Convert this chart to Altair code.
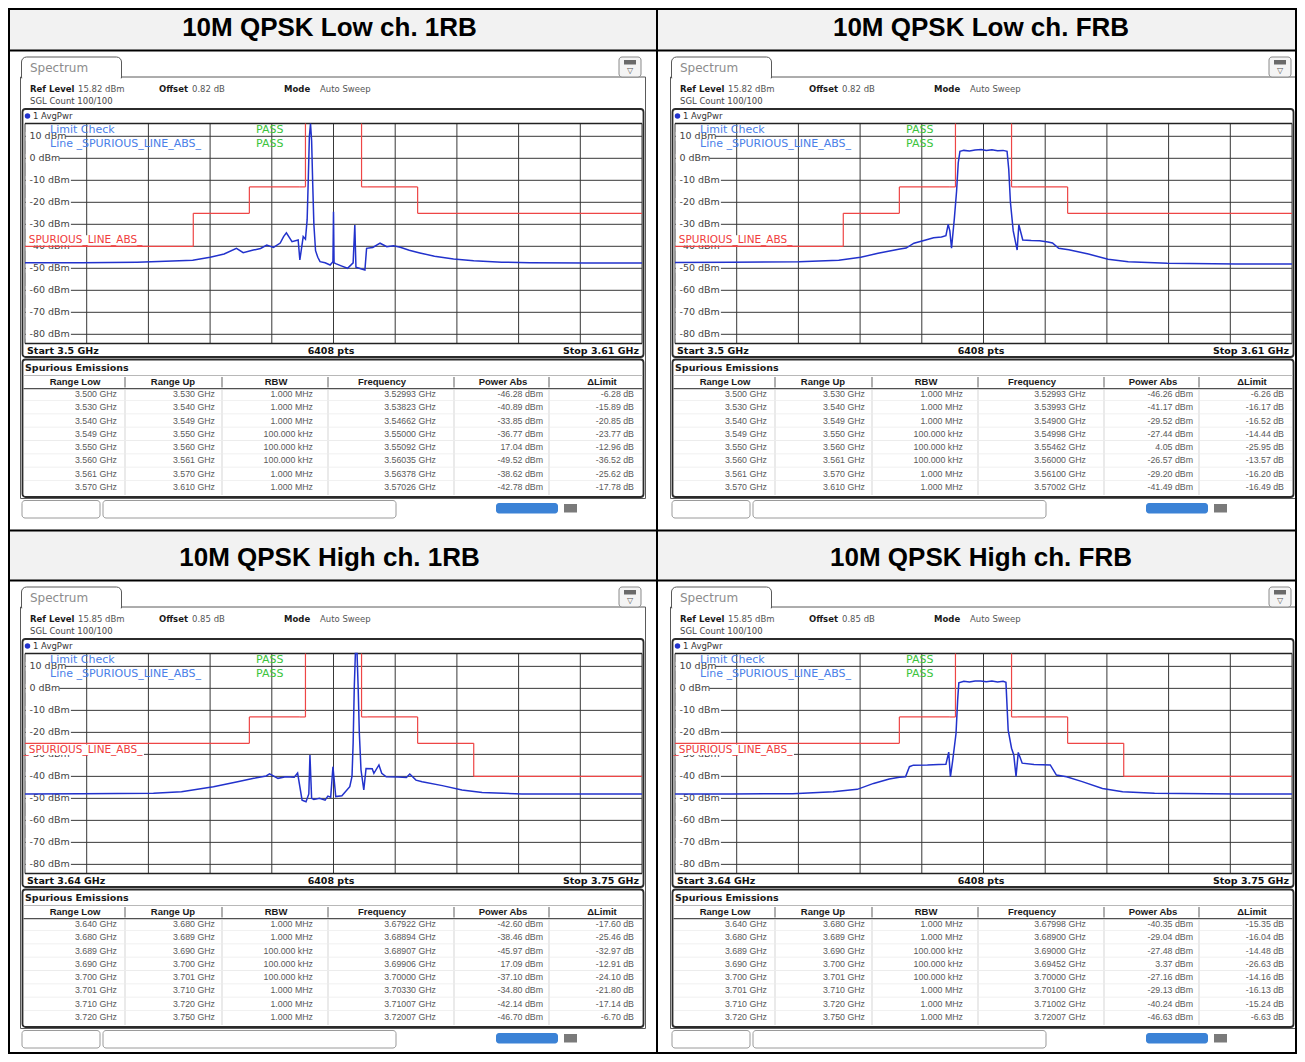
import altair as alt
import pandas as pd

# ------------------------------------------------------------------ data
TITLES = ["10M QPSK Low ch. 1RB", "10M QPSK Low ch. FRB",
          "10M QPSK High ch. 1RB", "10M QPSK High ch. FRB"]
REF_LEVEL = [15.82, 15.82, 15.85, 15.85]
OFFSET_DB = [0.82, 0.82, 0.85, 0.85]
START_GHZ = [3.50, 3.50, 3.64, 3.64]
STOP_GHZ = [3.61, 3.61, 3.75, 3.75]
SWEEP_POINTS = 6408
Y_TICKS = [10, 0, -10, -20, -30, -40, -50, -60, -70, -80]
TABLE_HEADERS = ["Range Low", "Range Up", "RBW", "Frequency", "Power Abs", "\u0394Limit"]

LOW_RANGE_LOW = [3.500, 3.530, 3.540, 3.549, 3.550, 3.560, 3.561, 3.570]
LOW_RANGE_UP = [3.530, 3.540, 3.549, 3.550, 3.560, 3.561, 3.570, 3.610]
LOW_RBW = ["1.000 MHz", "1.000 MHz", "1.000 MHz", "100.000 kHz",
           "100.000 kHz", "100.000 kHz", "1.000 MHz", "1.000 MHz"]
HIGH_RANGE_LOW = [3.640, 3.680, 3.689, 3.690, 3.700, 3.701, 3.710, 3.720]
HIGH_RANGE_UP = [3.680, 3.689, 3.690, 3.700, 3.701, 3.710, 3.720, 3.750]
HIGH_RBW = ["1.000 MHz", "1.000 MHz", "100.000 kHz", "100.000 kHz",
            "100.000 kHz", "1.000 MHz", "1.000 MHz", "1.000 MHz"]

P1_FREQ = [3.52993, 3.53823, 3.54662, 3.55000, 3.55092, 3.56035, 3.56378, 3.57026]
P1_POWER = [-46.28, -40.89, -33.85, -36.77, 17.04, -49.52, -38.62, -42.78]
P1_DELTA = [-6.28, -15.89, -20.85, -23.77, -12.96, -36.52, -25.62, -17.78]
P2_FREQ = [3.52993, 3.53993, 3.54900, 3.54998, 3.55462, 3.56000, 3.56100, 3.57002]
P2_POWER = [-46.26, -41.17, -29.52, -27.44, 4.05, -26.57, -29.20, -41.49]
P2_DELTA = [-6.26, -16.17, -16.52, -14.44, -25.95, -13.57, -16.20, -16.49]
P3_FREQ = [3.67922, 3.68894, 3.68907, 3.69906, 3.70000, 3.70330, 3.71007, 3.72007]
P3_POWER = [-42.60, -38.46, -45.97, 17.09, -37.10, -34.80, -42.14, -46.70]
P3_DELTA = [-17.60, -25.46, -32.97, -12.91, -24.10, -21.80, -17.14, -6.70]
P4_FREQ = [3.67998, 3.68900, 3.69000, 3.69452, 3.70000, 3.70100, 3.71002, 3.72007]
P4_POWER = [-40.35, -29.04, -27.48, 3.37, -27.16, -29.13, -40.24, -46.63]
P4_DELTA = [-15.35, -16.04, -14.48, -26.63, -14.16, -16.13, -15.24, -6.63]

# traces (GHz, dBm)
T1_F = [3.5000, 3.5100, 3.5200, 3.5263, 3.5299, 3.5330, 3.5355, 3.5377, 3.5389, 3.5407,
        3.5420, 3.5431, 3.5443, 3.5455, 3.5461, 3.5466, 3.5476, 3.5487, 3.5490, 3.5496,
        3.5500, 3.5503, 3.5505, 3.5507, 3.5509, 3.5511, 3.5513, 3.5515, 3.5518, 3.5522,
        3.5526, 3.5535, 3.5544, 3.5549, 3.5550, 3.5551, 3.5555, 3.5565, 3.5575, 3.5585,
        3.5588, 3.5590, 3.5600, 3.5606, 3.5609, 3.5620, 3.5633, 3.5645, 3.5657, 3.5669,
        3.5685, 3.5704, 3.5730, 3.5764, 3.5800, 3.5850, 3.5900, 3.6000, 3.6100]
T1_DB = [-47.5, -47.5, -47.2, -46.7, -46.3, -45.0, -43.5, -40.9, -42.9, -41.7,
         -41.0, -39.4, -40.5, -38.5, -35.6, -33.9, -37.9, -37.1, -46.2, -35.6,
         -36.8, -28.0, -10.0, 10.0, 17.0, 8.0, -12.0, -30.0, -42.0, -45.0,
         -47.0, -47.5, -48.5, -47.0, -24.3, -47.5, -48.0, -49.0, -50.0, -47.5,
         -30.3, -49.5, -50.3, -50.8, -40.9, -40.5, -38.6, -40.2, -39.8, -40.4,
         -41.8, -43.0, -44.5, -45.8, -46.6, -47.2, -47.5, -47.6, -47.6]
T2_F = [3.5000, 3.5100, 3.5221, 3.5292, 3.5331, 3.5362, 3.5401, 3.5412, 3.5426, 3.5447,
        3.5461, 3.5475, 3.5483, 3.5487, 3.5490, 3.5493, 3.5498, 3.5502, 3.5505, 3.5508,
        3.5515, 3.5525, 3.5535, 3.5546, 3.5555, 3.5565, 3.5575, 3.5585, 3.5592, 3.5595,
        3.5598, 3.5603, 3.5610, 3.5613, 3.5620, 3.5635, 3.5650, 3.5665, 3.5673, 3.5684,
        3.5702, 3.5737, 3.5772, 3.5808, 3.5878, 3.6000, 3.6100]
T2_DB = [-47.4, -47.3, -47.0, -46.3, -45.0, -43.2, -41.2, -40.8, -38.6, -37.1,
         -36.1, -35.8, -35.2, -30.0, -33.0, -40.9, -27.4, -15.0, -2.0, 3.2,
         3.6, 3.3, 3.8, 4.0, 3.5, 3.9, 3.4, 3.6, 3.2, -5.0,
         -20.0, -33.0, -41.7, -30.2, -37.1, -37.4, -37.5, -38.0, -38.5, -40.9,
         -41.6, -43.5, -45.9, -47.0, -47.7, -48.0, -48.0]
T3_F = [3.6400, 3.6500, 3.6629, 3.6679, 3.6736, 3.6779, 3.6808, 3.6830, 3.6836, 3.6851,
        3.6865, 3.6880, 3.6886, 3.6894, 3.6901, 3.6906, 3.6908, 3.6911, 3.6915, 3.6925,
        3.6935, 3.6940, 3.6945, 3.6949, 3.6954, 3.6965, 3.6979, 3.6983, 3.6985, 3.6987,
        3.6989, 3.6992, 3.6994, 3.6996, 3.6999, 3.7004, 3.7008, 3.7019, 3.7022, 3.7031,
        3.7036, 3.7044, 3.7065, 3.7080, 3.7086, 3.7097, 3.7108, 3.7144, 3.7179, 3.7215,
        3.7286, 3.7400, 3.7500]
T3_DB = [-48.0, -47.9, -47.7, -47.0, -44.7, -42.4, -40.9, -39.8, -38.9, -40.9,
         -40.2, -40.4, -38.5, -50.8, -51.5, -48.0, -30.3, -50.0, -50.5, -50.0,
         -50.8, -49.0, -49.5, -35.6, -49.2, -48.8, -44.7, -40.0, -25.0, 0.0,
         17.1, 17.0, 0.0, -20.0, -37.0, -46.2, -36.4, -36.5, -38.6, -34.8,
         -38.6, -40.2, -40.3, -40.5, -38.9, -41.7, -42.4, -44.2, -46.2, -47.3,
         -48.0, -48.0, -48.0]
T4_F = [3.6400, 3.6500, 3.6610, 3.6682, 3.6725, 3.6754, 3.6782, 3.6800, 3.6811, 3.6818,
        3.6825, 3.6850, 3.6870, 3.6883, 3.6888, 3.6891, 3.6895, 3.6901, 3.6904, 3.6906,
        3.6915, 3.6925, 3.6935, 3.6945, 3.6955, 3.6965, 3.6975, 3.6985, 3.6990, 3.6994,
        3.7000, 3.7004, 3.7008, 3.7012, 3.7019, 3.7040, 3.7069, 3.7080, 3.7098, 3.7126,
        3.7162, 3.7198, 3.7255, 3.7400, 3.7500]
T4_DB = [-48.0, -48.0, -47.9, -47.0, -45.9, -43.2, -41.2, -40.4, -40.2, -35.6,
         -34.9, -34.8, -34.6, -34.5, -29.0, -40.2, -33.0, -20.5, -5.0, 2.5,
         3.2, 2.9, 3.4, 3.4, 3.0, 3.3, 2.9, 3.2, 2.8, -19.0,
         -27.2, -30.3, -40.0, -29.1, -34.0, -34.6, -34.8, -39.4, -40.2, -42.4,
         -45.5, -47.0, -47.7, -48.0, -48.0]

PANELS = [
    dict(col=0, row=0, lo=LOW_RANGE_LOW, up=LOW_RANGE_UP, rbw=LOW_RBW,
         freq=P1_FREQ, power=P1_POWER, delta=P1_DELTA, tf=T1_F, tdb=T1_DB),
    dict(col=1, row=0, lo=LOW_RANGE_LOW, up=LOW_RANGE_UP, rbw=LOW_RBW,
         freq=P2_FREQ, power=P2_POWER, delta=P2_DELTA, tf=T2_F, tdb=T2_DB),
    dict(col=0, row=1, lo=HIGH_RANGE_LOW, up=HIGH_RANGE_UP, rbw=HIGH_RBW,
         freq=P3_FREQ, power=P3_POWER, delta=P3_DELTA, tf=T3_F, tdb=T3_DB),
    dict(col=1, row=1, lo=HIGH_RANGE_LOW, up=HIGH_RANGE_UP, rbw=HIGH_RBW,
         freq=P4_FREQ, power=P4_POWER, delta=P4_DELTA, tf=T4_F, tdb=T4_DB),
]

# ------------------------------------------------------------------ layout
W, H = 1289, 1046
DX, DY, M = 650, 530, 8
GL, GR, GT, GB = 25, 642, 123.5, 343.5          # grid box inside a panel
COL_RIGHT = [117, 215, 313, 436, 543, 634]       # right edges of table values
COL_CENTER = [75, 173, 276, 382, 503, 602]       # header centres
COL_SEP = [125, 222, 328, 454, 549]
ROW_TOP, ROW_BOT = 394, 487

INST = "DejaVu Sans"
TAB_FONT = "Liberation Sans"
TRACE_C = "#2232cc"
LIMIT_C = "#ee4646"
GRID_C = "#383838"


def cx(x, c):
    return x + DX * c - M


def cy(y, r):
    return y + DY * r - M


rect_groups = {k: [] for k in ["doc", "screen", "tab", "patch", "round", "lines", "top"]}
text_groups = {}


def add_rect(g, x, y, x2, y2, fill="transparent", stroke="transparent", sw=0.0):
    rect_groups[g].append(dict(x=x, y=y, x2=x2, y2=y2, fill=fill, stroke=stroke, sw=sw))


def add_text(style, x, y, t, color):
    text_groups.setdefault(style, []).append(dict(x=x, y=y, t=t, c=color))


def rect_layer(g, **mk):
    df = pd.DataFrame(rect_groups[g])
    return alt.Chart(df).mark_rect(**mk).encode(
        x=alt.X("x:Q", scale=None, axis=None), x2="x2:Q",
        y=alt.Y("y:Q", scale=None, axis=None), y2="y2:Q",
        fill=alt.Fill("fill:N", scale=None),
        stroke=alt.Stroke("stroke:N", scale=None),
        strokeWidth=alt.StrokeWidth("sw:Q", scale=None))


def text_layer(style):
    font, size, weight, align = style
    df = pd.DataFrame(text_groups[style])
    return alt.Chart(df).mark_text(font=font, fontSize=size, fontWeight=weight,
                                   align=align, baseline="middle").encode(
        x=alt.X("x:Q", scale=None, axis=None),
        y=alt.Y("y:Q", scale=None, axis=None),
        text="t:N", color=alt.Color("c:N", scale=None))


# document table
add_rect("doc", 1, 1, W - 1, 42.5, fill="#f2f2f2")
add_rect("doc", 1, 523, W - 1, 572.5, fill="#f2f2f2")
for (x, y, x2, y2) in [(0, 0, W, 2), (0, H - 2, W, H), (0, 0, 2, H), (W - 2, 0, W, H),
                       (0, 41.5, W, 43.5), (0, 521.5, W, 523.5), (0, 571.5, W, 573.5),
                       (648, 0, 650, H)]:
    add_rect("top", x, y, x2, y2, fill="#000000")

TBIG = ("Liberation Sans", 26, "bold", "center")
for p, P in enumerate(PANELS):
    c, r = P["col"], P["row"]
    tx = (329.5 if c == 0 else 981) - M
    add_text(TBIG, tx, cy(28, r), TITLES[p], "#000000")

S_SPEC = (INST, 12, "normal", "left")
S_B = (INST, 8.5, "bold", "left")
S_N = (INST, 8.5, "normal", "left")
S_B2 = (INST, 9.5, "bold", "left")
S_BC2 = (INST, 9.5, "bold", "center")
S_BR2 = (INST, 9.5, "bold", "right")
S_HC = (TAB_FONT, 9.5, "bold", "center")
S_LC = (INST, 11, "normal", "left")
S_IC = (INST, 8, "normal", "center")

# panel chrome
for p, P in enumerate(PANELS):
    c, r = P["col"], P["row"]
    X = lambda v: cx(v, c)
    Y = lambda v: cy(v, r)
    add_rect("screen", X(20.5), Y(77), X(645.5), Y(498.5), fill="#ffffff", stroke="#5a5a5a", sw=1)
    add_rect("tab", X(21.5), Y(57), X(121.5), Y(78), fill="#ffffff", stroke="#5a5a5a", sw=1)
    add_rect("patch", X(22.2), Y(76.2), X(120.8), Y(79.5), fill="#ffffff")
    add_rect("round", X(619), Y(57), X(641), Y(77), fill="#f4f4f4", stroke="#8a8a8a", sw=1)
    add_rect("lines", X(624), Y(60), X(636), Y(64.5), fill="#6a6a6a")
    add_rect("round", X(22.5), Y(109), X(643.5), Y(357), fill="#ffffff", stroke="#2b2b2b", sw=1.8)
    add_rect("round", X(22.5), Y(359.5), X(643.5), Y(497), fill="#ffffff", stroke="#2b2b2b", sw=1.8)
    add_rect("round", X(22), Y(500.5), X(100), Y(518), fill="#ffffff", stroke="#9a9a9a", sw=1)
    add_rect("round", X(103), Y(500.5), X(396), Y(518), fill="#ffffff", stroke="#9a9a9a", sw=1)
    add_rect("round", X(496), Y(503), X(558), Y(513.5), fill="#3b82d6")
    add_rect("lines", X(564), Y(504), X(577), Y(512.5), fill="#7a7a7a")
    # table header / separators
    add_rect("lines", X(23.5), Y(375), X(642.5), Y(376), fill="#b8b8b8")
    add_rect("lines", X(23.5), Y(388), X(642.5), Y(389.3), fill="#505050")
    for s in COL_SEP:
        add_rect("lines", X(s - 0.6), Y(377), X(s + 0.6), Y(387.5), fill="#7a7a7a")
        add_rect("lines", X(s - 0.5), Y(389.5), X(s + 0.5), Y(495), fill="#d6d6d6")
    for i in range(1, 8):
        yy = ROW_TOP + (ROW_BOT - ROW_TOP) * (i - 0.5) / 7
        add_rect("lines", X(24), Y(yy - 0.4), X(642), Y(yy + 0.4), fill="#ececec")

    add_text(S_SPEC, X(30), Y(67.5), "Spectrum", "#8c8c8c")
    add_text(S_IC, X(630), Y(71), "\u25bd", "#555555")
    add_text(S_B, X(30), Y(89), "Ref Level", "#1a1a1a")
    add_text(S_N, X(78), Y(89), f"{REF_LEVEL[p]:.2f} dBm", "#555555")
    add_text(S_B, X(159), Y(89), "Offset", "#1a1a1a")
    add_text(S_N, X(192), Y(89), f"{OFFSET_DB[p]:.2f} dB", "#555555")
    add_text(S_B, X(284), Y(89), "Mode", "#1a1a1a")
    add_text(S_N, X(320), Y(89), "Auto Sweep", "#555555")
    add_text(S_N, X(30), Y(101), "SGL Count 100/100", "#444444")
    add_text(S_N, X(33), Y(116), "1 AvgPwr", "#333333")
    add_text(S_LC, X(50), Y(130), "Limit Check", "#4a80e8")
    add_text(S_LC, X(50), Y(144), "Line _SPURIOUS_LINE_ABS_", "#4a80e8")
    add_text(S_LC, X(256), Y(130), "PASS", "#3cc43c")
    add_text(S_LC, X(256), Y(144), "PASS", "#3cc43c")
    add_text(S_B2, X(27), Y(350.5), f"Start {START_GHZ[p]:g} GHz", "#111111")
    add_text(S_BC2, X(331), Y(350.5), f"{SWEEP_POINTS} pts", "#111111")
    add_text(S_BR2, X(639), Y(350.5), f"Stop {STOP_GHZ[p]:g} GHz", "#111111")
    add_text(S_B2, X(25), Y(367.5), "Spurious Emissions", "#1a1a1a")
    for h, xc in zip(TABLE_HEADERS, COL_CENTER):
        add_text(S_HC, X(xc), Y(381.5), h, "#1a1a1a")

layers = []
layers.append(rect_layer("doc"))
layers.append(rect_layer("screen"))
layers.append(rect_layer("tab", cornerRadiusTopLeft=5, cornerRadiusTopRight=5))
layers.append(rect_layer("patch"))
layers.append(rect_layer("round", cornerRadius=3))
layers.append(rect_layer("lines"))

# dots of "1 AvgPwr"
dots = pd.DataFrame([dict(x=cx(27.5, P["col"]), y=cy(116, P["row"])) for P in PANELS])
layers.append(alt.Chart(dots).mark_circle(size=30, color=TRACE_C, opacity=1).encode(
    x=alt.X("x:Q", scale=None, axis=None), y=alt.Y("y:Q", scale=None, axis=None)))

plot_layers = []
for p, P in enumerate(PANELS):
    c, r = P["col"], P["row"]
    ref = REF_LEVEL[p]
    bot = ref - 100
    f0, f1 = START_GHZ[p], STOP_GHZ[p]
    xsc = alt.Scale(domain=[f0, f1], range=[cx(GL, c), cx(GR, c)], clamp=True, nice=False, zero=False)
    ysc = alt.Scale(domain=[bot, ref], range=[cy(GB, r), cy(GT, r)], clamp=True, nice=False, zero=False)
    rsc = alt.Scale(domain=[0, 7], range=[cy(ROW_TOP, r), cy(ROW_BOT, r)], nice=False, zero=False)

    divs = pd.DataFrame({"f": [f0 + k * (f1 - f0) / 10 for k in range(11)], "t": ref, "b": bot})
    plot_layers.append(alt.Chart(divs).mark_rule(color=GRID_C, strokeWidth=1).encode(
        x=alt.X("f:Q", scale=xsc, axis=None),
        y=alt.Y("t:Q", scale=ysc, axis=None), y2="b:Q"))
    hl = pd.DataFrame({"db": Y_TICKS, "l": f0, "r": f1})
    plot_layers.append(alt.Chart(hl).mark_rule(color=GRID_C, strokeWidth=1).encode(
        y=alt.Y("db:Q", scale=ysc, axis=None),
        x=alt.X("l:Q", scale=xsc, axis=None), x2="r:Q"))
    edges = pd.DataFrame({"db": [ref, bot], "l": f0, "r": f1})
    plot_layers.append(alt.Chart(edges).mark_rule(color="#222222", strokeWidth=1.6).encode(
        y=alt.Y("db:Q", scale=ysc, axis=None),
        x=alt.X("l:Q", scale=xsc, axis=None), x2="r:Q"))

    labs = [f"{v} dBm" for v in Y_TICKS]
    lab_df = pd.DataFrame({"db": Y_TICKS, "t": labs,
                           "bx": cx(25.8, c), "bx2": [cx(29, c) + 5.7 * len(s) + 2 for s in labs],
                           "yt": [v + 2.0 for v in Y_TICKS], "yb": [v - 2.0 for v in Y_TICKS]})
    plot_layers.append(alt.Chart(lab_df).mark_rect(color="#ffffff").encode(
        x=alt.X("bx:Q", scale=None, axis=None), x2="bx2:Q",
        y=alt.Y("yt:Q", scale=ysc, axis=None), y2="yb:Q"))
    plot_layers.append(alt.Chart(lab_df).mark_text(font=INST, fontSize=9.5, align="left",
                                                   baseline="middle", color="#444444").encode(
        x=alt.value(cx(29.5, c)), y=alt.Y("db:Q", scale=ysc, axis=None), text="t:N"))

    limits = [round(pw - d, 2) for pw, d in zip(P["power"], P["delta"])]
    top_panel = (r == 0)
    l0 = limits[0]
    sp = pd.DataFrame({"db": [l0],
                       "yt": [l0 + (5.0 if top_panel else -0.5)],
                       "yb": [l0 + (0.5 if top_panel else -5.3)],
                       "t": ["SPURIOUS_LINE_ABS_" if top_panel else "_SPURIOUS_LINE_ABS_"]})
    plot_layers.append(alt.Chart(sp).mark_rect(color="#ffffff").encode(
        x=alt.value(cx(26, c)), x2=alt.value(cx(144, c)),
        y=alt.Y("yt:Q", scale=ysc, axis=None), y2="yb:Q"))
    plot_layers.append(alt.Chart(sp).mark_text(
        font=INST, fontSize=10.5, align="right", color="#f03c3c",
        baseline="bottom" if top_panel else "top", dy=-1 if top_panel else 2).encode(
        x=alt.value(cx(142.5, c)), y=alt.Y("db:Q", scale=ysc, axis=None), text="t:N"))

    hseg = pd.DataFrame({"lo": P["lo"], "up": P["up"], "L": limits})
    hseg = hseg[hseg["L"] <= ref]
    plot_layers.append(alt.Chart(hseg).mark_rule(color=LIMIT_C, strokeWidth=1.2).encode(
        x=alt.X("lo:Q", scale=xsc, axis=None), x2="up:Q",
        y=alt.Y("L:Q", scale=ysc, axis=None)))
    vseg = pd.DataFrame({"f": P["lo"][1:], "a": limits[:-1], "b": limits[1:]})
    vseg = vseg[vseg["a"] != vseg["b"]]
    plot_layers.append(alt.Chart(vseg).mark_rule(color=LIMIT_C, strokeWidth=1.2).encode(
        x=alt.X("f:Q", scale=xsc, axis=None),
        y=alt.Y("a:Q", scale=ysc, axis=None), y2="b:Q"))

    tr = pd.DataFrame({"f": P["tf"], "db": P["tdb"]})
    plot_layers.append(alt.Chart(tr).mark_line(color=TRACE_C, strokeWidth=1.5,
                                              strokeJoin="miter").encode(
        x=alt.X("f:Q", scale=xsc, axis=None),
        y=alt.Y("db:Q", scale=ysc, axis=None)))

    cols = [[f"{v:.3f} GHz" for v in P["lo"]],
            [f"{v:.3f} GHz" for v in P["up"]],
            list(P["rbw"]),
            [f"{v:.5f} GHz" for v in P["freq"]],
            [f"{v:.2f} dBm" for v in P["power"]],
            [f"{v:.2f} dB" for v in P["delta"]]]
    for ci, vals in enumerate(cols):
        df = pd.DataFrame({"row": list(range(8)), "t": vals})
        plot_layers.append(alt.Chart(df).mark_text(font=TAB_FONT, fontSize=8.8, align="right",
                                                   baseline="middle", color="#5a5a5a").encode(
            x=alt.value(cx(COL_RIGHT[ci], c)),
            y=alt.Y("row:Q", scale=rsc, axis=None), text="t:N"))

layers += plot_layers
for style in text_groups:
    layers.append(text_layer(style))
layers.append(rect_layer("top"))

chart = alt.layer(*layers).resolve_scale(x="independent", y="independent").properties(
    width=W, height=H, padding=0, background="#ffffff",
    autosize=alt.AutoSizeParams(type="none")
).configure_view(stroke=None)

chart.save("out.html", embed_options={"renderer": "svg", "actions": False})
